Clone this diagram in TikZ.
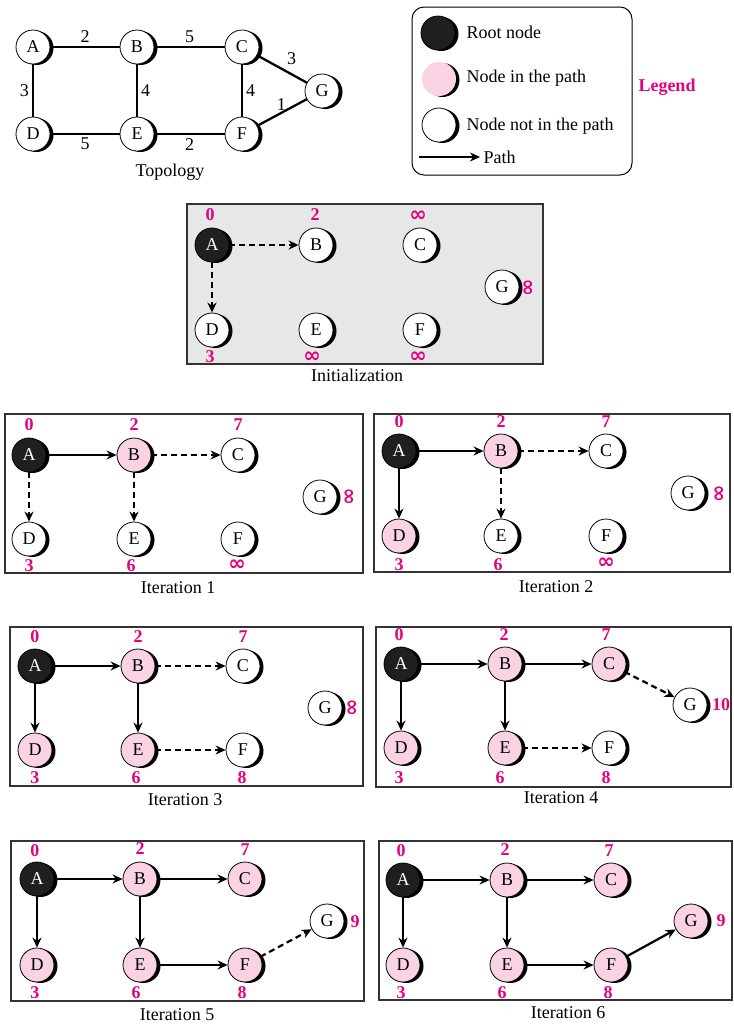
\documentclass[tikz,border=0pt]{standalone}
\usepackage{fontspec}
\setmainfont{Liberation Serif}
\newfontfamily\inffont{DejaVu Sans}
\usepackage{xcolor}
\usetikzlibrary{arrows.meta, shadows}

\definecolor{distpink}{RGB}{230,0,126}
\definecolor{pathpink}{RGB}{249,211,228}
\definecolor{panelgray}{RGB}{230,231,232}
\newcommand{\distinf}{{\inffont\fontsize{21}{22}\selectfont\bfseries ∞}}

\begin{document}
\begin{tikzpicture}[
    x=1pt, y=-1pt,              % one unit = one pixel of the sketch, y runs down
    font=\fontsize{18}{20}\selectfont,
    >={Stealth[length=10pt,width=9pt]},
    vertex/.style={draw, circle, minimum size=34pt, inner sep=0pt, line width=0.8pt, fill=white,
        general shadow={fill=black, shadow xshift=3.5pt, shadow yshift=-1pt}},
    rootvertex/.style={vertex, fill=black!88, text=white},
    pathvertex/.style={vertex, fill=pathpink},
    topolink/.style={line width=2.3pt},
    wlab/.style={inner sep=3pt},
    pathedge/.style={->, line width=2.2pt},
    probeedge/.style={->, line width=2.2pt, dash pattern=on 6pt off 4pt},
    distlab/.style={text=distpink, font=\fontsize{18}{20}\selectfont\bfseries, inner sep=0pt},
    panel/.style={draw=black!80, line width=1.2pt},
]
\useasboundingbox (0,0) rectangle (734,1026);

% -------------------------------------------------
% Topology
% -------------------------------------------------
\node[vertex] (tA) at (33,47) {A};
\node[vertex] (tB) at (137,47) {B};
\node[vertex] (tC) at (242,47) {C};
\node[vertex] (tG) at (322,91) {G};
\node[vertex] (tD) at (33,134) {D};
\node[vertex] (tE) at (137,134) {E};
\node[vertex] (tF) at (242,134) {F};

\path
(tA) edge[topolink] node[wlab, above] {2} (tB)
(tB) edge[topolink] node[wlab, above] {5} (tC)
(tA) edge[topolink] node[wlab, left] {3} (tD)
(tB) edge[topolink] node[wlab, right] {4} (tE)
(tC) edge[topolink] node[wlab, right] {4} (tF)
(tC) edge[topolink] node[wlab, above right, xshift=1pt] {3} (tG)
(tF) edge[topolink] node[wlab, above left, xshift=8pt, yshift=-2pt] {1} (tG)
(tD) edge[topolink] node[wlab, below] {5} (tE)
(tE) edge[topolink] node[wlab, below] {2} (tF);

\node (tCap) at (170,172) {Topology};

% -------------------------------------------------
% Legend
% -------------------------------------------------
\draw[line width=1pt, rounded corners=12pt] (412,7) rectangle (632,175);
\node[rootvertex] (lgRoot) at (438,33) {};
\node[pathvertex, draw=none] (lgPath) at (439,79) {};
\node[vertex] (lgOut) at (439,125) {};
\node[anchor=west] (lgRootTxt) at (463,32) {Root node};
\node[anchor=west] (lgPathTxt) at (463,78) {Node in the path};
\node[anchor=west] (lgOutTxt) at (463,126) {Node not in the path};
\coordinate (lgArr) at (419,157);
\node[anchor=west] (lgArrTxt) at (480,157) {Path};
\draw[pathedge] (lgArr) -- (lgArrTxt.west);
\node[distlab] (lgTitle) at (667,87) {Legend};

% -------------------------------------------------
% Initialization
% -------------------------------------------------
\begin{scope}[shift={(212,245)}]
\draw[panel, fill=panelgray] (-25,-41) rectangle (331,119);
\node[rootvertex] (iA) at (0,0) {A};
\node[vertex] (iB) at (104,0) {B};
\node[vertex] (iC) at (208,0) {C};
\node[vertex] (iG) at (290,42) {G};
\node[vertex] (iD) at (0,85) {D};
\node[vertex] (iE) at (104,85) {E};
\node[vertex] (iF) at (208,85) {F};

\node[distlab] (iAd) at (-2,-30) {0};
\node[distlab] (iBd) at (103,-30) {2};
\node[distlab] (iCd) at (206,-29) {\distinf};
\node[distlab, rotate=90] (iGd) at (317,43) {\distinf};
\node[distlab] (iDd) at (-2,112) {3};
\node[distlab] (iEd) at (100,112) {\distinf};
\node[distlab] (iFd) at (206,112) {\distinf};

\draw[probeedge] (iA) -- (iB);
\draw[probeedge] (iA) -- (iD);
\node (iCap) at (145,130) {Initialization};
\end{scope}

% -------------------------------------------------
% Iteration 1
% -------------------------------------------------
\begin{scope}[shift={(29,455)}]
\draw[panel] (-24,-41) rectangle (334,118);
\node[rootvertex] (aA) at (0,0) {A};
\node[pathvertex] (aB) at (105,0) {B};
\node[vertex] (aC) at (209,0) {C};
\node[vertex] (aG) at (291,42) {G};
\node[vertex] (aD) at (0,84) {D};
\node[vertex] (aE) at (105,84) {E};
\node[vertex] (aF) at (209,84) {F};

\node[distlab] (aAd) at (0,-30) {0};
\node[distlab] (aBd) at (105,-30) {2};
\node[distlab] (aCd) at (209,-30) {7};
\node[distlab, rotate=90] (aGd) at (321,42) {\distinf};
\node[distlab] (aDd) at (0,111) {3};
\node[distlab] (aEd) at (102,111) {6};
\node[distlab] (aFd) at (208,110) {\distinf};

\draw[pathedge] (aA) -- (aB);
\draw[probeedge] (aB) -- (aC);
\draw[probeedge] (aA) -- (aD);
\draw[probeedge] (aB) -- (aE);
\node (aCap) at (149,133) {Iteration 1};
\end{scope}

% -------------------------------------------------
% Iteration 2
% -------------------------------------------------
\begin{scope}[shift={(399,451)}]
\draw[panel] (-25,-37) rectangle (331,121);
\node[rootvertex] (bA) at (0,0) {A};
\node[pathvertex] (bB) at (102,0) {B};
\node[vertex] (bC) at (207,0) {C};
\node[vertex] (bG) at (289,42) {G};
\node[pathvertex] (bD) at (0,85) {D};
\node[vertex] (bE) at (102,85) {E};
\node[vertex] (bF) at (207,85) {F};

\node[distlab] (bAd) at (0,-29) {0};
\node[distlab] (bBd) at (102,-29) {2};
\node[distlab] (bCd) at (207,-29) {7};
\node[distlab, rotate=90] (bGd) at (321,43) {\distinf};
\node[distlab] (bDd) at (0,114) {3};
\node[distlab] (bEd) at (99,114) {6};
\node[distlab] (bFd) at (207,112) {\distinf};

\draw[pathedge] (bA) -- (bB);
\draw[probeedge] (bB) -- (bC);
\draw[pathedge] (bA) -- (bD);
\draw[probeedge] (bB) -- (bE);
\node (bCap) at (157,136) {Iteration 2};
\end{scope}

% -------------------------------------------------
% Iteration 3
% -------------------------------------------------
\begin{scope}[shift={(35,666)}]
\draw[panel] (-25,-39) rectangle (328,120);
\node[rootvertex] (cA) at (0,0) {A};
\node[pathvertex] (cB) at (103,0) {B};
\node[vertex] (cC) at (208,0) {C};
\node[vertex] (cG) at (290,42) {G};
\node[pathvertex] (cD) at (0,84) {D};
\node[pathvertex] (cE) at (103,84) {E};
\node[vertex] (cF) at (208,84) {F};

\node[distlab] (cAd) at (0,-29) {0};
\node[distlab] (cBd) at (103,-29) {2};
\node[distlab] (cCd) at (208,-29) {7};
\node[distlab, rotate=90] (cGd) at (318,42) {\distinf};
\node[distlab] (cDd) at (0,112) {3};
\node[distlab] (cEd) at (101,112) {6};
\node[distlab] (cFd) at (207,112) {8};

\draw[pathedge] (cA) -- (cB);
\draw[probeedge] (cB) -- (cC);
\draw[pathedge] (cA) -- (cD);
\draw[pathedge] (cB) -- (cE);
\draw[probeedge] (cE) -- (cF);
\node (cCap) at (150,134) {Iteration 3};
\end{scope}

% -------------------------------------------------
% Iteration 4
% -------------------------------------------------
\begin{scope}[shift={(401,664)}]
\draw[panel] (-25,-37) rectangle (330,123);
\node[rootvertex] (dA) at (0,0) {A};
\node[pathvertex] (dB) at (104,0) {B};
\node[pathvertex] (dC) at (208,0) {C};
\node[vertex] (dG) at (289,41) {G};
\node[pathvertex] (dD) at (0,84) {D};
\node[pathvertex] (dE) at (104,84) {E};
\node[vertex] (dF) at (208,84) {F};

\node[distlab] (dAd) at (-2,-29) {0};
\node[distlab] (dBd) at (103,-29) {2};
\node[distlab] (dCd) at (205,-29) {7};
\node[distlab] (dGd) at (320,41) {10};
\node[distlab] (dDd) at (-2,114) {3};
\node[distlab] (dEd) at (99,114) {6};
\node[distlab] (dFd) at (205,114) {8};

\draw[pathedge] (dA) -- (dB);
\draw[pathedge] (dB) -- (dC);
\draw[pathedge] (dA) -- (dD);
\draw[pathedge] (dB) -- (dE);
\draw[probeedge] (dE) -- (dF);
\draw[probeedge] (dC) -- (dG);
\node (dCap) at (160,134) {Iteration 4};
\end{scope}

% -------------------------------------------------
% Iteration 5
% -------------------------------------------------
\begin{scope}[shift={(37,879)}]
\draw[panel] (-26,-38) rectangle (327,122);
\node[rootvertex] (eA) at (0,0) {A};
\node[pathvertex] (eB) at (103,0) {B};
\node[pathvertex] (eC) at (208,0) {C};
\node[vertex] (eG) at (290,42) {G};
\node[pathvertex] (eD) at (0,86) {D};
\node[pathvertex] (eE) at (103,86) {E};
\node[pathvertex] (eF) at (208,86) {F};

\node[distlab] (eAd) at (-2,-28) {0};
\node[distlab] (eBd) at (103,-30) {2};
\node[distlab] (eCd) at (208,-29) {7};
\node[distlab] (eGd) at (318,43) {9};
\node[distlab] (eDd) at (-2,114) {3};
\node[distlab] (eEd) at (99,114) {6};
\node[distlab] (eFd) at (205,114) {8};

\draw[pathedge] (eA) -- (eB);
\draw[pathedge] (eB) -- (eC);
\draw[pathedge] (eA) -- (eD);
\draw[pathedge] (eB) -- (eE);
\draw[pathedge] (eE) -- (eF);
\draw[probeedge] (eF) -- (eG);
\node (eCap) at (140,136) {Iteration 5};
\end{scope}

% -------------------------------------------------
% Iteration 6
% -------------------------------------------------
\begin{scope}[shift={(403,880)}]
\draw[panel] (-24,-39) rectangle (329,120);
\node[rootvertex] (fA) at (0,0) {A};
\node[pathvertex] (fB) at (104,0) {B};
\node[pathvertex] (fC) at (208,0) {C};
\node[pathvertex] (fG) at (288,41) {G};
\node[pathvertex] (fD) at (0,85) {D};
\node[pathvertex] (fE) at (104,85) {E};
\node[pathvertex] (fF) at (208,85) {F};

\node[distlab] (fAd) at (-2,-29) {0};
\node[distlab] (fBd) at (102,-30) {2};
\node[distlab] (fCd) at (206,-29) {7};
\node[distlab] (fGd) at (318,41) {9};
\node[distlab] (fDd) at (-2,113) {3};
\node[distlab] (fEd) at (99,113) {6};
\node[distlab] (fFd) at (205,113) {8};

\draw[pathedge] (fA) -- (fB);
\draw[pathedge] (fB) -- (fC);
\draw[pathedge] (fA) -- (fD);
\draw[pathedge] (fB) -- (fE);
\draw[pathedge] (fE) -- (fF);
\draw[pathedge] (fF) -- (fG);
\node (fCap) at (165,133) {Iteration 6};
\end{scope}

\end{tikzpicture}
\end{document}
